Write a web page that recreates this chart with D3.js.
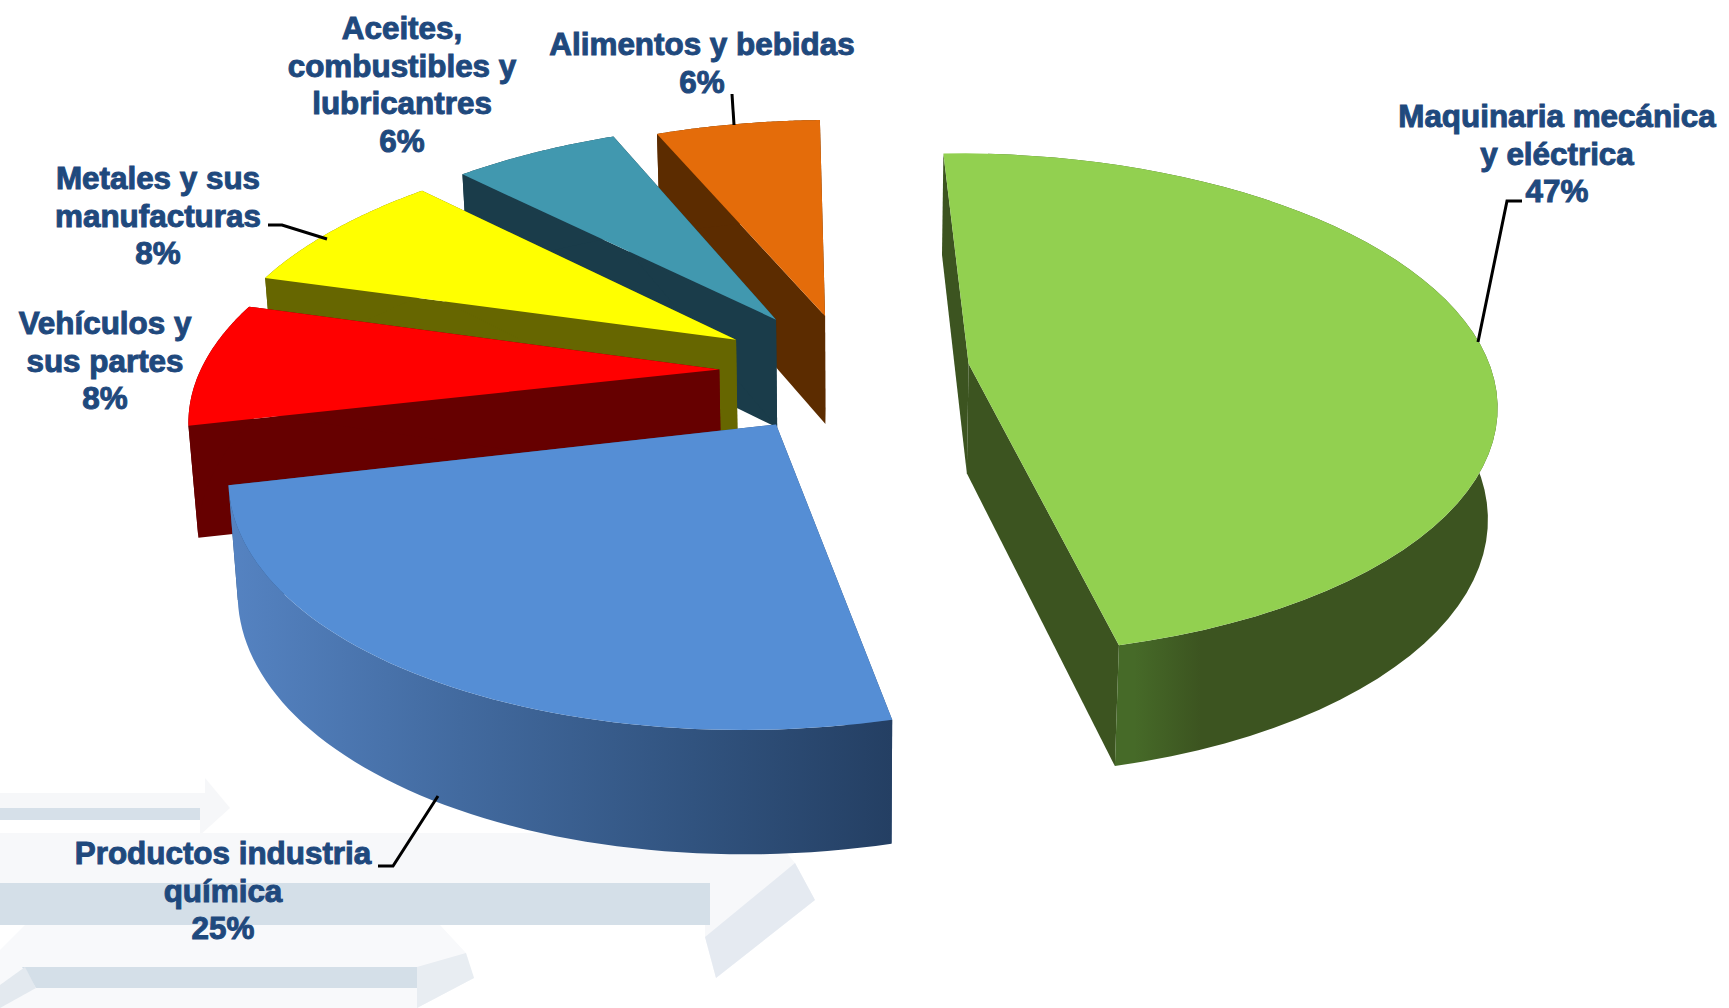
<!DOCTYPE html>
<html><head><meta charset="utf-8">
<script src="https://cdn.jsdelivr.net/npm/d3@7/dist/d3.min.js"></script>
<style>html,body{margin:0;padding:0;background:#fff;overflow:hidden}svg{display:block}</style>
</head><body><svg id="c" width="1729" height="1008"></svg>
<script>
const categories = ["Maquinaria mecánica y eléctrica","Productos industria química","Vehículos y sus partes","Metales y sus manufacturas","Aceites, combustibles y lubricantres","Alimentos y bebidas"];
const shares = [47,25,8,8,6,6];
const explode = [0.23,0.25,0.25,0.26,0.265,0.24];
const radiusScale = [1.015,0.98,0.98,1,1,1];
const topColors = ["#92d050","#558ed5","#ff0000","#ffff00","#4198af","#e46c0a"];
const wallColors = ["#3c5420","#2f4f7a","#660000","#666600","#1a3c4a","#5c2c00"];
const labelLines = [["Maquinaria mecánica","y eléctrica","47%"],["Productos industria","química","25%"],["Vehículos y","sus partes","8%"],["Metales y sus","manufacturas","8%"],["Aceites,","combustibles y","lubricantres","6%"],["Alimentos y bebidas","6%"]];
const labelX = [1557,223,105,158,402,702];
const labelY = [116,853,323,178,28,44];
const leaders = [[[1522,201],[1507,201],[1478,342]],[[378,866],[393,866],[438,796]],[],[[268,225],[282,225],[327,239]],[],[[732,94],[734,125]]];

const cx=850,cy=371,rx=521,ry=243,k=0.16,skew=-40,shear=14,depth=110,bx=0.985,by=1.04;
const svg=d3.select("#c");
const defs=svg.append("defs");
const g1=defs.append("linearGradient").attr("id","blueRim");
[[0,"#5583c2"],[0.35,"#426a9f"],[0.7,"#31537f"],[1,"#243f63"]].forEach(s=>g1.append("stop").attr("offset",s[0]).attr("stop-color",s[1]));
const g0=defs.append("linearGradient").attr("id","greenRim");
[[0,"#466a28"],[0.29,"#466a28"],[0.42,"#3c5420"],[1,"#3c5420"]].forEach(s=>g0.append("stop").attr("offset",s[0]).attr("stop-color",s[1]));

// faint background arrows
const deco=svg.append("g");
const poly=(pts,f)=>deco.append("polygon").attr("points",pts.join(" ")).attr("fill",f);
poly([[0,793],[205,793],[205,778],[230,808],[200,835],[200,820],[0,820]],"#f6f7f9");
poly([[0,808],[200,808],[200,820],[0,820]],"#d6e0e9");
poly([[0,833],[770,833],[795,863],[815,900],[716,978],[705,937],[705,925],[0,925]],"#f7f8fa");
poly([[795,863],[815,900],[716,978],[705,937]],"#e5eaf1");
poly([[0,883],[710,883],[710,925],[0,925]],"#d4dfe8");
poly([[0,950],[25,925],[440,925],[466,953],[474,978],[417,1008],[0,1008]],"#f8f9fb");
poly([[466,953],[474,978],[417,1008],[417,967]],"#e8edf2");
poly([[22,967],[417,967],[417,988],[36,988]],"#d4dfe8");
poly([[0,1008],[36,988],[25,967],[0,985]],"#e3e9ef");

const a0=-5.5*Math.PI/180;
const arcs=d3.pie().sort(null).startAngle(a0).endAngle(a0+2*Math.PI)(shares);
// plane point -> screen, with perspective toward the viewer
const project=(X,Y,sx,sy,dy)=>{const w=1-k*Y;return [cx+(rx*X+skew*Y)/w*sx, cy+dy+(ry*Y+shear*X)/w*sy];};
const line=d3.line();
const chart=svg.append("g");
arcs.map((a,i)=>({a,i})).reverse().forEach(({a,i})=>{
  const mid=(a.startAngle+a.endAngle)/2, r=radiusScale[i];
  const ox=explode[i]*Math.sin(mid), oy=-explode[i]*Math.cos(mid);
  const ts=d3.range(0,61).map(j=>a.startAngle+(a.endAngle-a.startAngle)*j/60);
  const top=ts.map(t=>project(ox+r*Math.sin(t),oy-r*Math.cos(t),1,1,0));
  const bot=ts.map(t=>project(ox+r*Math.sin(t),oy-r*Math.cos(t),bx,by,depth));
  const A=project(ox,oy,1,1,0),B=project(ox,oy,bx,by,depth);
  chart.append("path").attr("d",line([A,top[0],bot[0],B])+"Z").attr("fill",wallColors[i]);
  chart.append("path").attr("d",line([A,top[60],bot[60],B])+"Z").attr("fill",wallColors[i]);
  const rimFill=i===1?"url(#blueRim)":i===0?"url(#greenRim)":wallColors[i];
  const front=ts.map((t,j)=>j).filter(j=>i!==0||Math.sin(ts[j])>0);
  const rim=front.map(j=>top[j]).concat(front.map(j=>bot[j]).reverse());
  chart.append("path").attr("d",line(rim)+"Z").attr("fill",rimFill);
  chart.append("path").attr("d",line([A].concat(top))+"Z").attr("fill",topColors[i]);
});

// leaders and labels
leaders.forEach(l=>{ if(l.length) svg.append("path").attr("d",line(l)).attr("fill","none").attr("stroke","#000").attr("stroke-width",3);});
labelLines.forEach((ls,i)=>{
  const t=svg.append("text").attr("text-anchor","middle").attr("font-family","'Liberation Sans',Arial,sans-serif")
    .attr("font-weight","700").attr("font-size",31.4).attr("fill","#1f497d").attr("stroke","#1f497d").attr("stroke-width",1);
  ls.forEach((s,j)=>t.append("tspan").attr("x",labelX[i]).attr("y",labelY[i]+j*37.5).attr("dy","0.36em").text(s));
});
</script></body></html>
